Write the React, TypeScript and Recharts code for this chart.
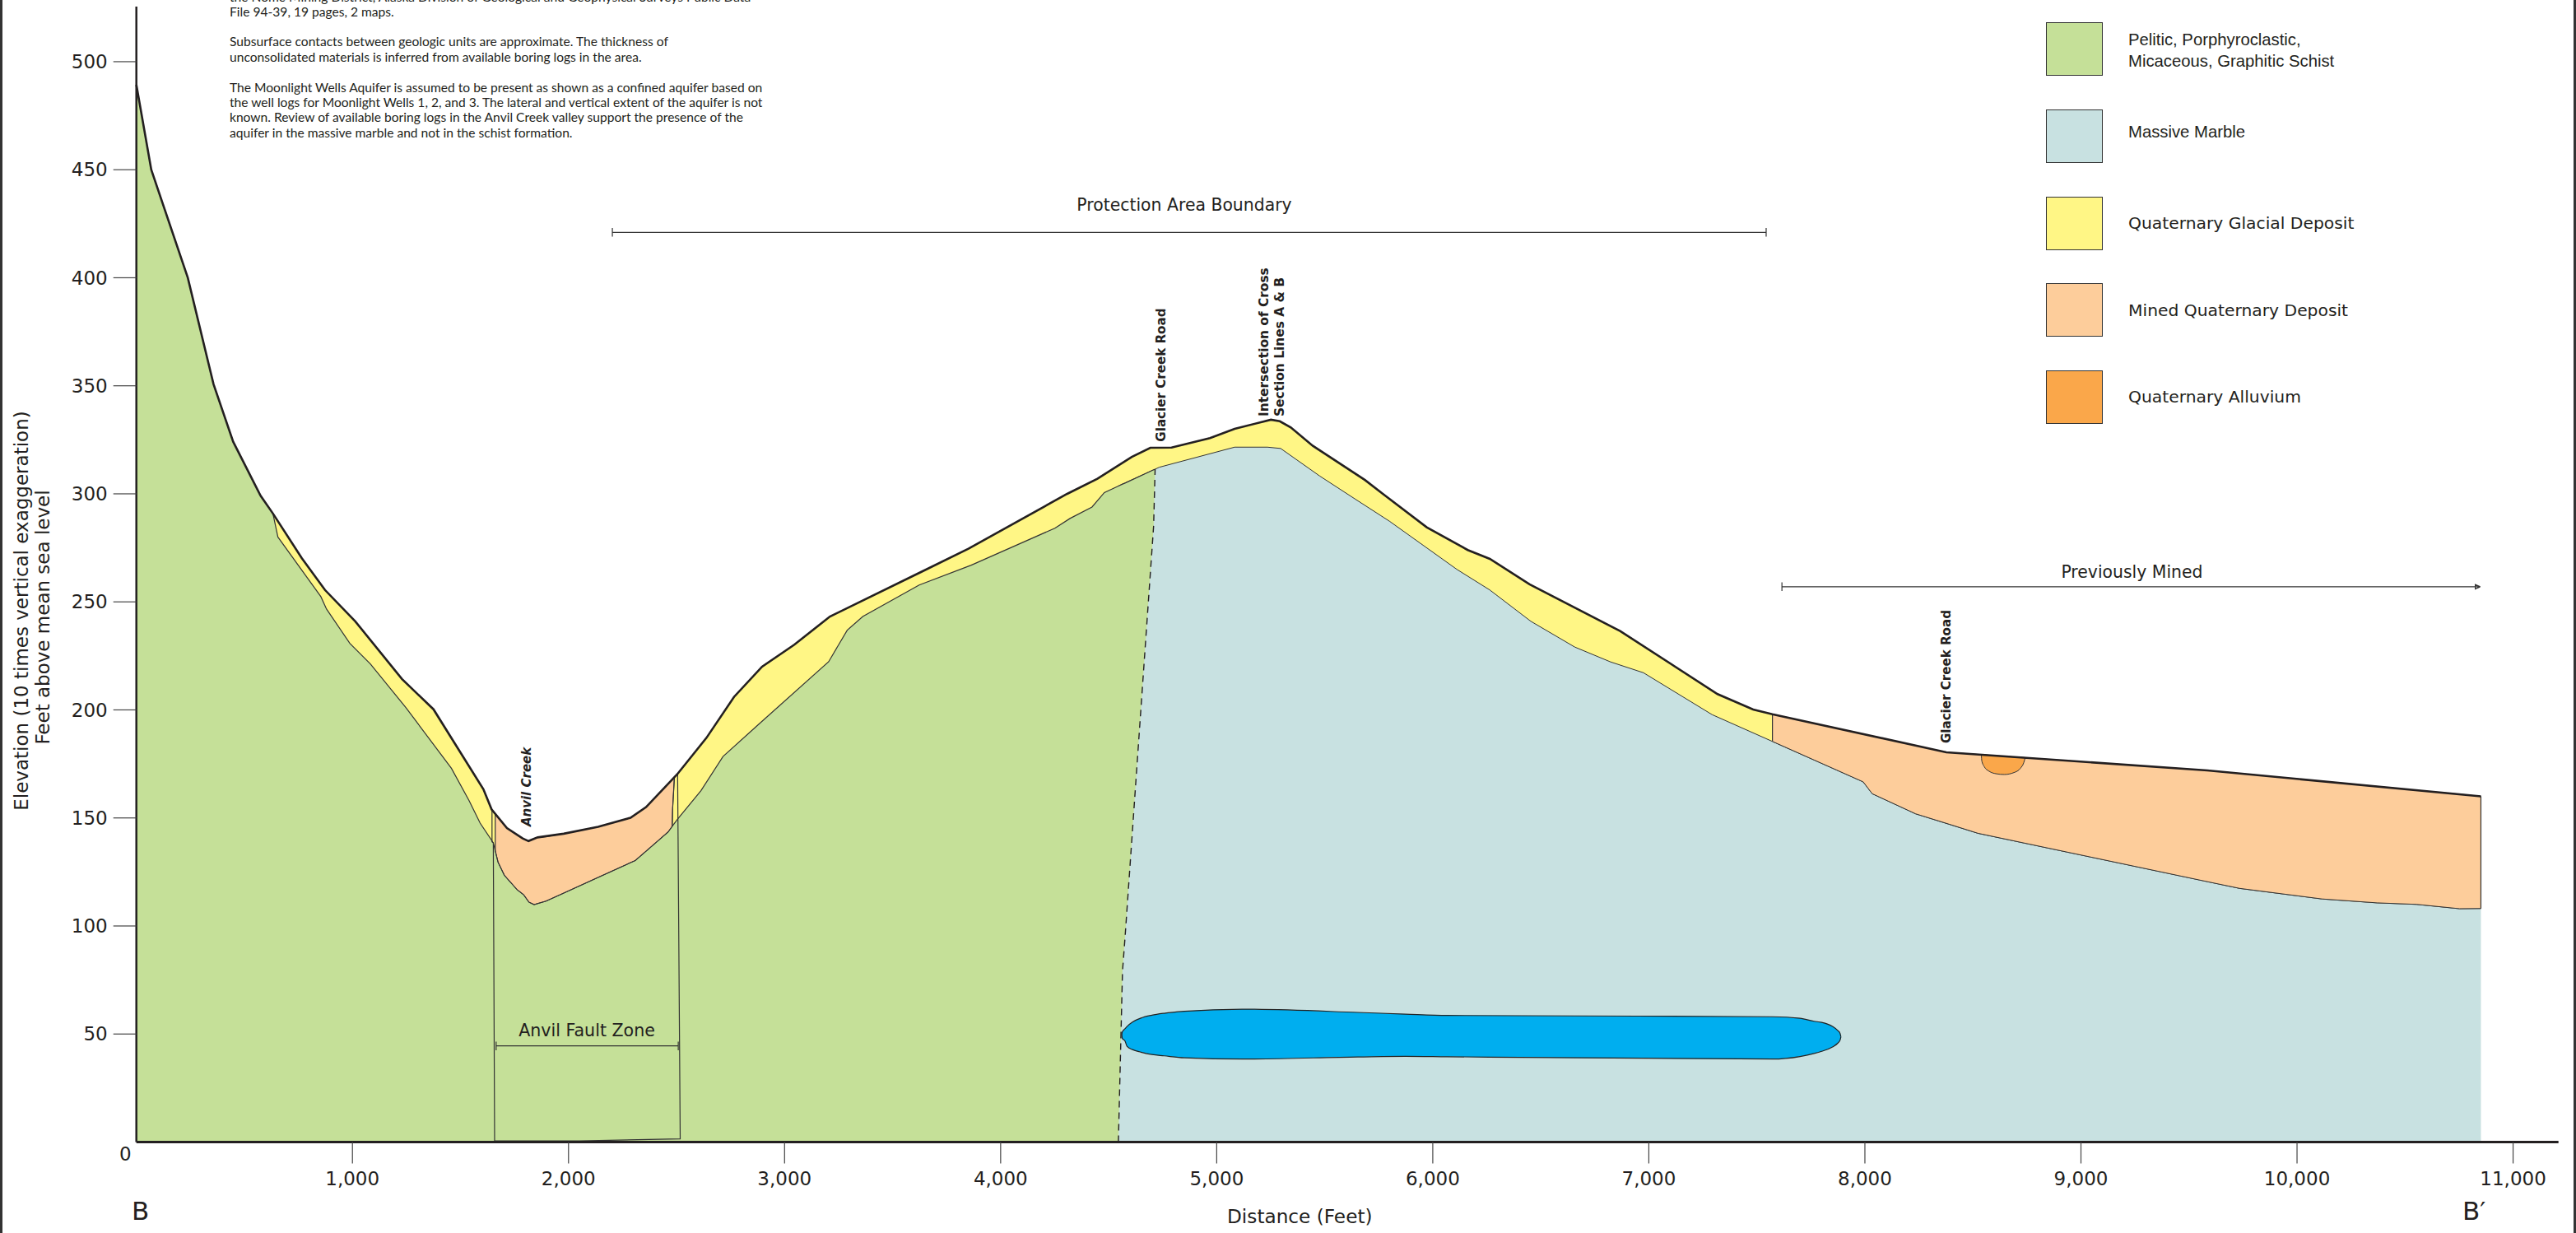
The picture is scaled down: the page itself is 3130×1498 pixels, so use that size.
import { Area, ComposedChart, Line, ReferenceDot, XAxis, YAxis } from 'recharts';

const INK = '#231f20';
const SCHIST = '#c5e098';
const MARBLE = '#c8e1e1';
const GLACIAL = '#fff685';
const MINED = '#fdcd9b';
const ALLUVIUM = '#faa74a';
const AQUIFER = '#00aeef';

const xTicks = [1000, 2000, 3000, 4000, 5000, 6000, 7000, 8000, 9000, 10000, 11000];
const yTicks = [50, 100, 150, 200, 250, 300, 350, 400, 450, 500];

// [distance, elevation]
const surface = [
  [0, 489.3], [69, 450], [238, 400], [357, 350.8], [448, 324.1], [575, 299.1], [632, 290.9], [766, 270.2],
  [873, 255.5], [1013, 241], [1229, 214.3], [1375, 200.3], [1606, 163.3], [1644, 154], [1715, 145.3],
  [1788, 140.5], [1815, 139.3], [1857, 141], [1978, 142.7], [2137, 145.9], [2287, 150.1], [2359, 155],
  [2503, 170.2], [2638, 187], [2766, 206], [2896, 220], [3045, 230.2], [3210, 243.2], [3635, 264],
  [3851, 274.6], [4308, 300], [4448, 307], [4607, 317.1], [4693, 321.3], [4791, 321.4], [4969, 325.8],
  [5083, 330.1], [5251, 334.3], [5292, 333.6], [5343, 330.7], [5445, 322.2], [5686, 306.4], [5769, 300],
  [5972, 284.5], [6162, 274], [6264, 269.9], [6448, 258.1], [6867, 236.5], [7318, 207.3], [7483, 200.2],
  [7572, 198], [8377, 180.4], [9585, 172], [10851, 160],
];

const schistTop = [
  [632, 290.9], [655, 280], [854, 252.4], [880, 246.7], [988, 230.8], [1083, 221.3], [1248, 201], [1296, 194.6],
  [1458, 173], [1540, 158], [1591, 147.6], [1652, 138.5], [1661, 134.8], [1674, 129.5], [1703, 123.5],
  [1762, 116.8], [1792, 114.5], [1817, 111], [1841, 109.9], [1896, 111.5], [2309, 130.3], [2461, 143.5],
  [2480, 146.1], [2505, 149.5], [2613, 162.6], [2715, 178.4], [2880, 193.3], [3204, 222.3], [3290, 236.9],
  [3362, 243.2], [3623, 257.8], [3864, 267], [4251, 284.1], [4321, 288.6], [4423, 293.9], [4480, 300.6],
];

// [distance, low, high] where the schist wedges against the marble
const schistContact = [
  [4545, 0, 303.6], [4564, 79, 304.5], [4576, 95, 305], [4708, 285, 311.1], [4715, 311.4, 311.4],
];

const marbleTop = [
  [4545, 303.6], [4715, 311.4], [4734, 312.3], [5083, 321.6], [5235, 321.6], [5296, 321], [5476, 308.3],
  [5642, 297.5], [5800, 287.3], [6112, 265], [6264, 255.5], [6454, 241], [6657, 229.1], [6823, 222.2],
  [6975, 217.2], [7293, 197.8], [7572, 185.4], [7992, 166.7], [8034, 161.2], [8235, 151.9], [8523, 142.9],
  [9734, 117.4], [10116, 112.5], [10370, 110.7], [10553, 110], [10752, 108], [10851, 108.1],
];

const anvilMined = [
  [1661, 134.8, 151.9], [1674, 129.5, 150.3], [1703, 123.5, 146.8], [1715, 122.1, 145.3], [1762, 116.8, 142.2],
  [1792, 114.5, 140.3], [1817, 111, 139.3], [1841, 109.9, 140.3], [1857, 110.4, 141], [1896, 111.5, 141.3],
  [1978, 115.2, 142.7], [2137, 122.5, 145.9], [2287, 129.3, 150.1], [2309, 130.3, 151.6], [2359, 134.6, 155],
  [2461, 143.5, 165.6], [2480, 146.1, 167.6], [2482, 154.4, 167.9], [2490, 168.6, 168.9],
];

const valleyMined = [
  [7572, 185.4, 198], [7992, 166.7, 188.8], [8034, 161.2, 187.9], [8235, 151.9, 183.5], [8377, 147.5, 180.4],
  [8523, 142.9, 179.4], [9585, 120.5, 172], [9734, 117.4, 170.6], [10116, 112.5, 167], [10370, 110.7, 164.6],
  [10553, 110, 162.8], [10752, 108, 161], [10851, 108.1, 160],
];

const alluvium = [
  [8539, 179.3, 179.3], [8541, 176.5, 179.3], [8552, 173.8, 179.2], [8575, 171.6, 179], [8610, 170.4, 178.7],
  [8645, 170.1, 178.5], [8690, 171, 178.2], [8720, 173, 178], [8735, 175.5, 177.95], [8742, 177.9, 177.9],
];

const aquifer = [
  [4561, 49.7, 49.7], [4563, 48, 51], [4576, 46.7, 52.5], [4585, 44.3, 53.5], [4610, 42.8, 55.5], [4650, 41.6, 57.4],
  [4700, 40.5, 58.7], [4757, 39.9, 59.6], [4850, 39, 60.5], [5118, 38.4, 61.5], [5654, 39.4, 60], [5873, 39.7, 59.2],
  [6066, 39.5, 58.6], [7572, 38.4, 58], [7700, 39.6, 57.3], [7765, 41, 55.9], [7800, 42, 55.4], [7850, 44, 53.5],
  [7875, 45.8, 51.6], [7885, 47.1, 50.3], [7889, 48.7, 48.7],
];

const contactLine = [[4545, 0], [4564, 79], [4576, 95], [4708, 285], [4715, 311.4]];
const faultWest = [[1646, 154], [1646, 139], [1652, 138.5], [1658, 0.5], [2050, 0.5], [2517, 1.5], [2505, 170.8]];
const anvilEdges = [[1661, 152], [1661, 134.8]];
const anvilEdgeEast = [[2480, 146.1], [2482, 154.4], [2490, 168.6]];
const minedEdgeWest = [[7572, 198], [7572, 185.4]];
const minedEdgeEast = [[10851, 160], [10851, 108.1]];

const protectionBar = [[2203, 423], [2203, 419], [2203, 421], [7543, 421], [7543, 423], [7543, 419]];
const minedBar = [[7616, 259], [7616, 255], [7616, 257], [10848, 257], [10825, 258], [10825, 256], [10848, 257]];
const faultBar = [[1665, 46.5], [1665, 42.5], [1665, 44.5], [2508, 44.5], [2508, 46.5], [2508, 42.5]];

const plotLabels = [
  { text: 'Protection Area Boundary', x: 4850, y: 433.6, size: 20.4 },
  { text: 'Previously Mined', x: 9236, y: 263.8, size: 20.4 },
  { text: 'Anvil Fault Zone', x: 2085, y: 51.6, size: 20.6 },
  { text: 'Glacier Creek Road', x: 4745, y: 355, size: 15.1, bold: true, vertical: true },
  { text: 'Glacier Creek Road', x: 8378, y: 215.4, size: 15.1, bold: true, vertical: true },
  { text: 'Intersection of Cross', x: 5219, y: 335.8, size: 15.4, bold: true, vertical: true, start: true },
  { text: 'Section Lines A & B', x: 5290, y: 335.8, size: 15.4, bold: true, vertical: true, start: true },
  { text: 'Anvil Creek', x: 1807, y: 164.4, size: 15, bold: true, italic: true, vertical: true },
];

const noteLines = [
  ['the Nome Mining District, Alaska Division of Geological and Geophysical Surveys Public Data', -3],
  ['File 94-39, 19 pages, 2 maps.', 15],
  ['Subsurface contacts between geologic units are approximate. The thickness of', 51],
  ['unconsolidated materials is inferred from available boring logs in the area.', 70],
  ['The Moonlight Wells Aquifer is assumed to be present as shown as a confined aquifer based on', 107],
  ['the well logs for Moonlight Wells 1, 2, and 3. The lateral and vertical extent of the aquifer is not', 125],
  ['known. Review of available boring logs in the Anvil Creek valley support the presence of the', 143],
  ['aquifer in the massive marble and not in the schist formation.', 162],
];

const legendColors = [SCHIST, MARBLE, GLACIAL, MINED, ALLUVIUM];
const legendTops = [27, 133, 239, 344, 450];
const legendTexts = [
  { lines: ['Pelitic, Porphyroclastic,', 'Micaceous, Graphitic Schist'], ys: [48, 74], font: 'Liberation Sans', size: 20.3 },
  { lines: ['Massive Marble'], ys: [160], font: 'Liberation Sans', size: 20.3 },
  { lines: ['Quaternary Glacial Deposit'], ys: [271], font: 'DejaVu Sans', size: 20.3 },
  { lines: ['Mined Quaternary Deposit'], ys: [377], font: 'DejaVu Sans', size: 20.3 },
  { lines: ['Quaternary Alluvium'], ys: [482], font: 'DejaVu Sans', size: 20.3 },
];

const points = (rows: number[][]) => rows.map(([x, y]) => ({ x, y }));
const ranges = (rows: number[][]) => rows.map(([x, low, high]) => ({ x, band: [low, high] }));

const glacialRows = points(surface.filter(([x]) => x >= 632 && x <= 7572));
const marbleRows = points(marbleTop);
const schistRows = [
  ...surface.filter(([x]) => x < 632).map(([x, y]) => [x, 0, y]),
  ...schistTop.map(([x, y]) => [x, 0, y]),
  ...schistContact,
];
const schistLine = [...schistTop, ...schistContact.map(([x, , high]) => [x, high])];

const thinLines = [schistLine, faultWest, anvilEdges, anvilEdgeEast, minedEdgeWest, minedEdgeEast, protectionBar, minedBar, faultBar];

const PlotLabel = ({ cx, cy, label }: any) => (
  <text
    x={cx}
    y={cy}
    fill={INK}
    fontFamily="DejaVu Sans"
    fontSize={label.size}
    fontWeight={label.bold ? 700 : 400}
    fontStyle={label.italic ? 'italic' : 'normal'}
    textAnchor={label.start ? 'start' : 'middle'}
    dominantBaseline="central"
    transform={label.vertical ? `rotate(-90 ${cx} ${cy})` : undefined}
  >
    {label.text}
  </text>
);

const pageText = (left: number, top: number, size: number, extra: any = {}) => ({
  position: 'absolute' as const,
  left,
  top,
  fontSize: size,
  fontFamily: 'DejaVu Sans',
  color: INK,
  whiteSpace: 'nowrap' as const,
  lineHeight: 1,
  transform: 'translateY(-50%)',
  ...extra,
});

export default function App() {
  return (
    <div style={{ position: 'absolute', left: 0, top: 0, width: 3130, height: 1498, background: '#fff', overflow: 'hidden' }}>
      <ComposedChart width={3130} height={1498} margin={{ top: 8, right: 21.3, bottom: 80.5, left: 105.7 }}>
        <XAxis
          dataKey="x"
          type="number"
          domain={[0, 11210]}
          ticks={xTicks}
          interval={0}
          height={30}
          tickSize={26}
          tickMargin={10}
          tickFormatter={(v: number) => v.toLocaleString('en-US')}
          tick={{ fill: INK, fontSize: 23, fontFamily: 'DejaVu Sans' }}
          tickLine={{ stroke: '#444', strokeWidth: 1.2 }}
          axisLine={{ stroke: INK, strokeWidth: 3 }}
        />
        <YAxis
          type="number"
          domain={[0, 525.5]}
          ticks={yTicks}
          interval={0}
          width={60}
          tickSize={28}
          tickMargin={7}
          tick={{ fill: INK, fontSize: 23, fontFamily: 'DejaVu Sans' }}
          tickLine={{ stroke: '#444', strokeWidth: 1.2 }}
          axisLine={{ stroke: INK, strokeWidth: 2.5 }}
        />

        <Area data={glacialRows} dataKey="y" type="linear" fill={GLACIAL} fillOpacity={1} stroke="none" dot={false} activeDot={false} isAnimationActive={false} />
        <Area data={marbleRows} dataKey="y" type="linear" fill={MARBLE} fillOpacity={1} stroke="#333" strokeWidth={1} dot={false} activeDot={false} isAnimationActive={false} />
        <Area data={ranges(schistRows)} dataKey="band" type="linear" fill={SCHIST} fillOpacity={1} stroke="none" dot={false} activeDot={false} isAnimationActive={false} />
        <Area data={ranges(anvilMined)} dataKey="band" type="linear" fill={MINED} fillOpacity={1} stroke="#333" strokeWidth={1} dot={false} activeDot={false} isAnimationActive={false} />
        <Area data={ranges(valleyMined)} dataKey="band" type="linear" fill={MINED} fillOpacity={1} stroke="#333" strokeWidth={1} dot={false} activeDot={false} isAnimationActive={false} />
        <Area data={ranges(alluvium)} dataKey="band" type="monotoneX" fill={ALLUVIUM} fillOpacity={1} stroke="#333" strokeWidth={1} dot={false} activeDot={false} isAnimationActive={false} />
        <Area data={ranges(aquifer)} dataKey="band" type="monotoneX" fill={AQUIFER} fillOpacity={1} stroke="#222" strokeWidth={1.2} dot={false} activeDot={false} isAnimationActive={false} />

        {thinLines.map((rows, i) => (
          <Line key={i} data={points(rows)} dataKey="y" type="linear" stroke="#333" strokeWidth={1.2} dot={false} activeDot={false} legendType="none" isAnimationActive={false} />
        ))}
        <Line data={points(contactLine)} dataKey="y" type="linear" stroke={INK} strokeWidth={1.4} strokeDasharray="8 6" dot={false} activeDot={false} legendType="none" isAnimationActive={false} />
        <Line data={points(surface)} dataKey="y" type="linear" stroke={INK} strokeWidth={2.6} dot={false} activeDot={false} legendType="none" isAnimationActive={false} />

        {plotLabels.map((label, i) => (
          <ReferenceDot key={i} x={label.x} y={label.y} r={0} ifOverflow="visible" shape={(p: any) => <PlotLabel {...p} label={label} />} />
        ))}
      </ComposedChart>

      {/* page frame */}
      <div style={{ position: 'absolute', left: 0, top: 0, width: 2.5, height: 1498, background: '#333' }} />
      <div style={{ position: 'absolute', left: 3127, top: 0, width: 2.5, height: 1498, background: '#333' }} />

      {/* corner and axis titles */}
      <div style={pageText(145, 1402, 23)}>0</div>
      <div style={pageText(160, 1471, 31)}>B</div>
      <div style={pageText(2992, 1471, 31)}>B′</div>
      <div style={pageText(1491, 1478, 23.2)}>Distance (Feet)</div>
      <div style={pageText(26, 742, 23, { transform: 'translate(-50%, -50%) rotate(-90deg)' })}>Elevation (10 times vertical exaggeration)</div>
      <div style={pageText(52, 750, 23, { transform: 'translate(-50%, -50%) rotate(-90deg)' })}>Feet above mean sea level</div>

      {/* map notes */}
      {noteLines.map(([line, y]) => (
        <div key={line as string} style={pageText(279, y as number, 15.6, { fontFamily: 'Lato' })}>{line}</div>
      ))}

      {/* legend */}
      {legendColors.map((color, i) => (
        <div
          key={color}
          style={{
            position: 'absolute',
            left: 2486,
            top: legendTops[i],
            width: 69,
            height: 65,
            boxSizing: 'border-box',
            background: color,
            border: '1.5px solid #333',
          }}
        />
      ))}
      {legendTexts.flatMap((entry) =>
        entry.lines.map((line, j) => (
          <div key={line} style={pageText(2586, entry.ys[j], entry.size, { fontFamily: entry.font })}>{line}</div>
        )),
      )}
    </div>
  );
}
